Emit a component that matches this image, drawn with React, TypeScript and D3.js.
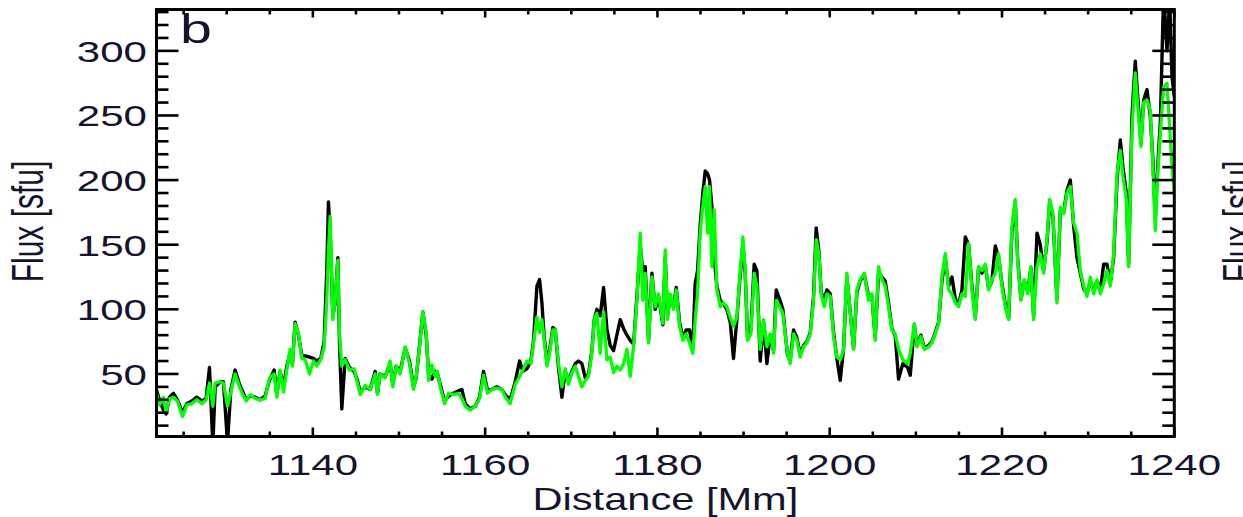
import React from 'react';
import * as d3 from 'd3';

// Distance [Mm] sample positions
const distance = [
  // 1122-1150
  1121.69, 1122.19, 1122.66, 1122.97, 1123.35, 1123.82, 1124.28, 1124.86, 1125.37, 1125.95,
  1126.53, 1127.11, 1127.61, 1128.0, 1128.39, 1128.66, 1129.24, 1129.62, 1130.09, 1130.48,
  1130.98, 1131.48, 1131.87, 1132.26, 1132.72, 1133.3, 1133.88, 1134.46, 1134.96, 1135.51,
  1135.82, 1136.2, 1136.59, 1136.98, 1137.36, 1137.63, 1137.94, 1138.33, 1138.72, 1139.11,
  1139.61, 1140.07, 1140.46, 1140.92, 1141.31, 1141.62, 1141.81, 1142.01, 1142.32, 1142.59,
  1142.9, 1143.09, 1143.36, 1143.75, 1144.25, 1144.79, 1145.18, 1145.49, 1146.07, 1146.65,
  1147.23, 1147.5, 1147.81, 1148.39, 1148.97, 1149.28, 1149.67, 1150.13,
  // 1150-1180
  1150.72, 1151.22, 1151.69, 1152.0, 1152.38, 1152.77, 1153.16, 1153.43, 1153.82, 1154.2,
  1154.47, 1154.78, 1155.29, 1155.75, 1156.33, 1156.91, 1157.3, 1157.69, 1158.27, 1158.85,
  1159.35, 1159.81, 1160.28, 1160.78, 1161.36, 1161.94, 1162.45, 1162.91, 1163.49, 1164.0,
  1164.38, 1164.85, 1165.31, 1165.62, 1166.01, 1166.32, 1166.59, 1166.86, 1167.17, 1167.48,
  1167.86, 1168.14, 1168.52, 1168.91, 1169.3, 1169.68, 1170.07, 1170.46, 1170.84, 1171.23,
  1171.62, 1172.0, 1172.39, 1172.66, 1172.97, 1173.36, 1173.75, 1174.13, 1174.52, 1174.91,
  1175.29, 1175.68, 1176.07, 1176.46, 1176.84, 1177.23, 1177.62, 1178.0, 1178.31, 1178.58,
  1178.97, 1179.36, 1179.74, 1180.13,
  // 1180-1208
  1180.63, 1180.9, 1181.17, 1181.48, 1181.87, 1182.18, 1182.57, 1182.95, 1183.34, 1183.73,
  1184.11, 1184.38, 1184.66, 1184.96, 1185.27, 1185.55, 1185.82, 1186.05, 1186.32, 1186.59,
  1186.9, 1187.29, 1187.67, 1188.06, 1188.45, 1188.83, 1189.22, 1189.53, 1189.92, 1190.19,
  1190.46, 1190.85, 1191.23, 1191.54, 1191.93, 1192.32, 1192.71, 1193.09, 1193.48, 1193.79,
  1194.18, 1194.56, 1194.83, 1195.1, 1195.41, 1195.8, 1196.19, 1196.57, 1196.96, 1197.35,
  1197.74, 1198.12, 1198.43, 1198.74, 1199.01, 1199.36, 1199.67, 1200.06, 1200.45, 1200.83,
  1201.22, 1201.61, 1201.99, 1202.38, 1202.77, 1203.15, 1203.54, 1204.01, 1204.51, 1204.9,
  1205.28, 1205.67, 1206.06, 1206.44, 1206.83, 1207.22, 1207.6, 1207.99, 1208.49,
  // 1209-1240
  1209.04, 1209.35, 1209.82, 1210.13, 1210.59, 1210.98, 1211.48, 1211.87, 1212.25, 1212.64,
  1213.03, 1213.41, 1213.8, 1214.19, 1214.58, 1214.96, 1215.35, 1215.74, 1216.12, 1216.51,
  1216.9, 1217.28, 1217.67, 1218.06, 1218.45, 1218.83, 1219.22, 1219.61, 1219.99, 1220.38,
  1220.77, 1221.15, 1221.54, 1221.81, 1222.2, 1222.59, 1222.97, 1223.36, 1223.67, 1224.06,
  1224.44, 1224.83, 1225.22, 1225.53, 1225.91, 1226.38, 1226.77, 1227.15, 1227.54, 1227.93,
  1228.31, 1228.7, 1229.09, 1229.48, 1229.86, 1230.25, 1230.64, 1231.02, 1231.41, 1231.8,
  1232.18, 1232.57, 1232.96, 1233.35, 1233.73, 1234.04, 1234.43, 1234.7, 1235.09, 1235.47,
  1235.86, 1236.13, 1236.44, 1236.83, 1237.21, 1237.52, 1237.79, 1238.07, 1238.38, 1238.76,
  1239.15, 1239.46, 1239.73, 1240.0,
];

// Flux [sfu], green series
const fluxGreen = [
  39, 26, 32, 20, 31, 32, 29, 17, 26, 27,
  30, 27, 30, 43, 25, 43, 44, 43, 25, 36,
  50, 40, 34, 29, 34, 31, 30, 31, 47, 50,
  32, 53, 36, 53, 69, 56, 89, 81, 62, 61,
  50, 60, 56, 61, 71, 107, 146, 172, 92, 107,
  138, 81, 56, 61, 53, 54, 43, 34, 41, 38,
  50, 34, 50, 47, 60, 40, 56, 50,
  71, 58, 38, 48, 71, 98, 82, 45, 57, 48,
  52, 40, 27, 35, 34, 35, 31, 25, 22, 25,
  31, 49, 35, 38, 39, 38, 31, 27, 42, 48,
  53, 60, 58, 74, 94, 82, 92, 76, 56, 66,
  84, 84, 58, 40, 54, 42, 51, 56, 48, 40,
  45, 48, 66, 92, 97, 66, 98, 61, 63, 51,
  56, 53, 58, 69, 48, 71, 107, 159, 107, 128,
  74, 125, 102, 112,
  89, 146, 92, 112, 100, 115, 87, 76, 81, 74,
  66, 92, 112, 159, 180, 195, 159, 195, 133, 177,
  115, 102, 105, 102, 94, 87, 94, 123, 156, 130,
  76, 81, 128, 118, 69, 92, 71, 81, 66, 107,
  102, 97, 81, 66, 58, 81, 76, 63, 71, 74,
  81, 107, 154, 143, 112, 102, 112, 110, 79, 63,
  61, 69, 128, 97, 69, 115, 123, 128, 107, 112,
  76, 133, 123, 118, 102, 84, 81, 69, 61,
  58, 66, 89, 71, 79, 69, 71, 74, 81, 89,
  125, 143, 115, 112, 105, 102, 112, 110, 151, 115,
  92, 133, 130, 135, 115, 123, 128, 143, 118, 102,
  92, 164, 185, 138, 107, 123, 112, 133, 92, 133,
  143, 128, 154, 185, 174, 105, 179, 174, 190, 195,
  167, 159, 130, 118, 110, 125, 112, 123, 112, 120,
  130, 118, 143, 205, 223, 203, 185, 133, 239, 283,
  249, 226, 260, 262, 254, 210, 161, 205, 236, 272,
  275, 241, 210, 190,
];

// Flux [sfu], black series
const fluxBlack = [
  41, 30, 22, 19, 32, 35, 30, 20, 27, 29,
  32, 29, 31, 55, -5, 40, 44, 44, -3, 38,
  53, 42, 36, 30, 33, 32, 30, 33, 45, 53,
  34, 52, 40, 56, 66, 58, 90, 80, 64, 64,
  63, 62, 60, 62, 75, 130, 183, 160, 95, 105,
  140, 75, 23, 62, 55, 52, 45, 36, 40, 38,
  52, 35, 50, 48, 58, 42, 56, 52,
  70, 60, 40, 47, 72, 98, 80, 50, 46, 52,
  50, 42, 29, 33, 35, 37, 38, 27, 23, 25,
  32, 52, 37, 38, 40, 38, 33, 30, 44, 60,
  52, 54, 60, 76, 118, 123, 105, 78, 60, 68,
  86, 84, 55, 32, 52, 44, 52, 58, 60, 58,
  47, 50, 68, 92, 100, 95, 117, 85, 72, 68,
  80, 92, 85, 80, 76, 73, 110, 150, 128, 133,
  76, 128, 100, 110,
  88, 140, 95, 110, 102, 117, 90, 78, 84, 84,
  70, 120, 130, 165, 190, 207, 205, 200, 180, 140,
  118, 107, 104, 100, 90, 62, 92, 120, 150, 128,
  78, 84, 135, 130, 60, 90, 58, 80, 68, 115,
  108, 100, 82, 65, 60, 84, 78, 65, 72, 75,
  82, 110, 163, 145, 113, 108, 115, 112, 82, 62,
  45, 70, 125, 98, 70, 113, 122, 127, 110, 110,
  78, 128, 125, 122, 105, 85, 80, 46, 58,
  55, 49, 88, 72, 80, 70, 72, 75, 82, 90,
  122, 140, 118, 125, 108, 104, 115, 156, 150, 118,
  94, 132, 128, 134, 116, 122, 149, 140, 120, 104,
  93, 160, 183, 140, 108, 122, 114, 132, 95, 159,
  150, 130, 152, 183, 172, 108, 176, 175, 192, 200,
  165, 140, 128, 116, 112, 122, 114, 122, 114, 135,
  135, 120, 140, 200, 231, 210, 190, 135, 250, 292,
  255, 228, 262, 270, 250, 215, 170, 210, 245, 345,
  300, 340, 280, 265,
];

const xMajorTicks = [1140, 1160, 1180, 1200, 1220, 1240];
const yMajorTicks = [50, 100, 150, 200, 250, 300];
const xDomain = [1121.85, 1240];
const yDomain = [1.6, 332];

const W = 1243;
const H = 517;
const L = 156.5, R = 1174.3, T = 9.5, B = 436.5;
const FONT = "'Liberation Sans', Arial, Helvetica, sans-serif";
const TXT = '#14142e';

export default function App() {
  const x = d3.scaleLinear().domain(xDomain).range([L, R]);
  const y = d3.scaleLinear().domain(yDomain).range([B, T]);

  const line = d3
    .line<number>()
    .x((_, i) => x(distance[i]))
    .y((d) => y(d));

  const xMinor = d3.range(1125, 1240, 5).filter((v) => !xMajorTicks.includes(v));
  const yMinor = d3.range(10, 331, 10).filter((v) => !yMajorTicks.includes(v));

  return (
    <svg width={W} height={H} style={{ position: 'absolute', left: 0, top: 0, display: 'block', background: '#fff' }}>
      <defs>
        <clipPath id="plotClip">
          <rect x={L} y={T} width={R - L} height={B - T} />
        </clipPath>
      </defs>
      <rect x={0} y={0} width={W} height={H} fill="#fff" />

      <g clipPath="url(#plotClip)" fill="none" strokeLinejoin="round" strokeLinecap="round">
        <path d={line(fluxBlack) || ''} stroke="#000" strokeWidth={3.4} />
        <path d={line(fluxGreen) || ''} stroke="#00ff00" strokeWidth={3.3} />
      </g>

      {/* frame */}
      <rect x={L} y={T} width={R - L} height={B - T} fill="none" stroke="#000" strokeWidth={3} />

      {/* ticks */}
      <g stroke="#000" strokeWidth={2.6}>
        {yMajorTicks.map((v) => (
          <g key={'ym' + v}>
            <line x1={L} x2={L + 22} y1={y(v)} y2={y(v)} />
            <line x1={R} x2={R - 22} y1={y(v)} y2={y(v)} />
          </g>
        ))}
        {yMinor.map((v) => (
          <g key={'yn' + v}>
            <line x1={L} x2={L + 12} y1={y(v)} y2={y(v)} />
            <line x1={R} x2={R - 12} y1={y(v)} y2={y(v)} />
          </g>
        ))}
        {xMajorTicks.map((v) => (
          <g key={'xm' + v}>
            <line x1={x(v)} x2={x(v)} y1={T} y2={T + 8} />
            <line x1={x(v)} x2={x(v)} y1={B} y2={B - 9} />
          </g>
        ))}
        {xMinor.map((v) => (
          <g key={'xn' + v}>
            <line x1={x(v)} x2={x(v)} y1={T} y2={T + 5} />
            <line x1={x(v)} x2={x(v)} y1={B} y2={B - 5} />
          </g>
        ))}
      </g>

      {/* tick labels */}
      <g fontFamily={FONT} fontSize={29} fill={TXT}>
        {yMajorTicks.map((v) => (
          <text key={'yl' + v} textAnchor="end" transform={`translate(147,${y(v) + 11}) scale(1.45,1)`}>
            {v}
          </text>
        ))}
        {xMajorTicks.map((v) => (
          <text key={'xl' + v} textAnchor="middle" fontSize={30} transform={`translate(${x(v)},475) scale(1.4,1)`}>
            {v}
          </text>
        ))}
      </g>

      <text
        fontFamily={FONT}
        fontSize={32}
        fill={TXT}
        textAnchor="middle"
        transform={`translate(${(L + R) / 2},510) scale(1.3,1)`}
      >
        Distance [Mm]
      </text>

      <text
        fontFamily={FONT}
        fontSize={30}
        fill={TXT}
        textAnchor="middle"
        transform="translate(43,221.5) scale(1.45,1) rotate(-90)"
      >
        Flux [sfu]
      </text>
      <text
        fontFamily={FONT}
        fontSize={30}
        fill={TXT}
        textAnchor="middle"
        transform="translate(1254,221.5) scale(1.45,1) rotate(-90)"
      >
        Flux [sfu]
      </text>

      <text fontFamily={FONT} fontSize={41} fill={TXT} transform="translate(180,43) scale(1.4,1)">
        b
      </text>
    </svg>
  );
}
